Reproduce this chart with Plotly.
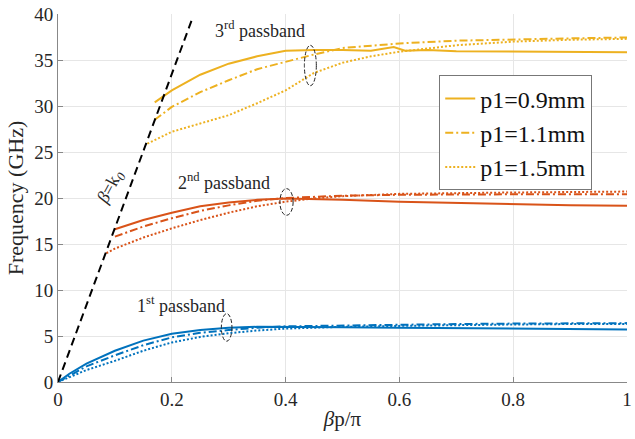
import plotly.graph_objects as go

# ---------------- data ----------------
k0_x = [0.0, 0.236]
k0_y = [0.0, 39.5]

b1_x = [0, 0.02, 0.05, 0.1, 0.15, 0.2, 0.25, 0.3, 0.35, 0.4, 0.5, 0.6, 0.7, 0.8, 0.9, 1.0]
b1_09 = [0, 0.9, 2.0, 3.4, 4.5, 5.25, 5.65, 5.9, 6.0, 6.0, 5.95, 5.9, 5.85, 5.8, 5.75, 5.7]
b1_11 = [0, 0.7, 1.7, 2.9, 4.0, 4.85, 5.35, 5.65, 5.9, 6.05, 6.15, 6.25, 6.3, 6.35, 6.35, 6.4]
b1_15 = [0, 0.5, 1.3, 2.3, 3.4, 4.3, 4.9, 5.3, 5.6, 5.8, 6.0, 6.1, 6.2, 6.25, 6.3, 6.3]

b2_x = [0.1, 0.15, 0.2, 0.25, 0.3, 0.35, 0.4, 0.45, 0.5, 0.6, 0.7, 0.8, 0.9, 1.0]
b2_09 = [16.6, 17.6, 18.4, 19.1, 19.5, 19.8, 19.95, 19.9, 19.8, 19.6, 19.45, 19.3, 19.2, 19.15]
b2_11 = [15.8, 16.9, 17.8, 18.6, 19.2, 19.7, 20.0, 20.15, 20.25, 20.35, 20.4, 20.4, 20.4, 20.4]
b2_15_x = [0.085, 0.1, 0.15, 0.2, 0.25, 0.3, 0.35, 0.4, 0.45, 0.5, 0.6, 0.7, 0.8, 0.9, 1.0]
b2_15 = [14.0, 14.5, 15.7, 16.7, 17.6, 18.4, 19.1, 19.6, 19.95, 20.2, 20.45, 20.55, 20.6, 20.65, 20.7]

b3_09_x = [0.17, 0.2, 0.25, 0.3, 0.35, 0.4, 0.45, 0.5, 0.55, 0.59, 0.61, 0.65, 0.7, 0.8, 0.9, 1.0]
b3_09 = [30.4, 31.7, 33.4, 34.6, 35.4, 36.0, 36.1, 36.1, 36.0, 36.4, 36.0, 36.1, 35.95, 35.9, 35.9, 35.85]
b3_11_x = [0.17, 0.2, 0.25, 0.3, 0.35, 0.4, 0.45, 0.5, 0.6, 0.7, 0.8, 0.9, 1.0]
b3_11 = [28.5, 29.9, 31.5, 32.8, 34.0, 34.8, 35.6, 36.3, 36.8, 37.1, 37.25, 37.35, 37.45]
b3_15_x = [0.157, 0.2, 0.25, 0.3, 0.35, 0.4, 0.45, 0.5, 0.55, 0.6, 0.7, 0.8, 0.9, 1.0]
b3_15 = [25.9, 27.2, 28.1, 29.0, 30.3, 31.7, 33.6, 34.7, 35.4, 35.9, 36.6, 37.0, 37.2, 37.3]

legend_names = ["p1=0.9mm", "p1=1.1mm", "p1=1.5mm"]
x_ticks = [0, 0.2, 0.4, 0.6, 0.8, 1]
x_tick_text = ["0", "0.2", "0.4", "0.6", "0.8", "1"]
y_ticks = [0, 5, 10, 15, 20, 25, 30, 35, 40]

# ---------------- style ----------------
BLUE = "#0072BD"
ORANGE = "#D95319"
YELLOW = "#EDB120"
FONT = "Liberation Serif"
TXT = "#262626"
dashes = ["solid", "8px,3px,2px,3px", "2px,2px"]
LW = 2

fig = go.Figure()

bands = [
    (BLUE, [(b1_x, b1_09), (b1_x, b1_11), (b1_x, b1_15)], False),
    (ORANGE, [(b2_x, b2_09), (b2_x, b2_11), (b2_15_x, b2_15)], False),
    (YELLOW, [(b3_09_x, b3_09), (b3_11_x, b3_11), (b3_15_x, b3_15)], True),
]
for color, series, show in bands:
    for i, (xs, ys) in enumerate(series):
        fig.add_trace(go.Scatter(x=xs, y=ys, mode="lines", name=legend_names[i],
                                 line=dict(color=color, width=LW, dash=dashes[i]),
                                 showlegend=show))

fig.add_trace(go.Scatter(x=k0_x, y=k0_y, mode="lines",
                         line=dict(color="black", width=2, dash="8px,5px"),
                         showlegend=False))

# dashed ellipses
ellipses = [(0.4435, 0.0105, 34.4, 2.2), (0.4016, 0.0116, 19.57, 1.45), (0.2964, 0.0093, 5.93, 1.5)]
for cx, rx, cy, ry in ellipses:
    fig.add_shape(type="circle", xref="x", yref="y", x0=cx - rx, x1=cx + rx, y0=cy - ry, y1=cy + ry,
                  line=dict(color="#222", width=1, dash="4px,2px"))

ann_font = dict(family=FONT, size=18, color=TXT)
fig.add_annotation(x=0.355, y=38.3, xref="x", yref="y", text="3<sup>rd</sup> passband",
                   showarrow=False, font=ann_font)
fig.add_annotation(x=0.292, y=21.8, xref="x", yref="y", text="2<sup>nd</sup> passband",
                   showarrow=False, font=ann_font)
fig.add_annotation(x=0.216, y=8.4, xref="x", yref="y", text="1<sup>st</sup> passband",
                   showarrow=False, font=ann_font)
fig.add_annotation(x=0.094, y=21.2, xref="x", yref="y", text="<i>β</i>=k<sub><i>0</i></sub>",
                   showarrow=False, textangle=-62, font=ann_font)

axis_common = dict(showgrid=True, gridcolor="#e6e6e6", gridwidth=1, zeroline=False,
                   showline=True, linecolor="#888", linewidth=1, ticks="inside",
                   ticklen=5, tickcolor="#888", ticklabeloverflow="allow",
                   tickfont=dict(family=FONT, size=19, color=TXT))

fig.update_xaxes(range=[0, 1], tickvals=x_ticks, ticktext=x_tick_text,
                 title=dict(text="<i>β</i>p/π", font=dict(family=FONT, size=21, color=TXT), standoff=2),
                 **axis_common)
fig.update_yaxes(range=[0, 40], tickvals=y_ticks,
                 title=dict(text="Frequency (GHz)", font=dict(family=FONT, size=22, color=TXT), standoff=4),
                 **axis_common)

fig.update_layout(
    width=635, height=439,
    margin=dict(l=58, r=3, t=14, b=57),
    paper_bgcolor="white", plot_bgcolor="white",
    font=dict(family=FONT),
    legend=dict(x=0.67, y=0.833, xanchor="left", yanchor="top",
                bgcolor="white", bordercolor="#777", borderwidth=1,
                font=dict(family=FONT, size=24, color="#111"),
                tracegroupgap=0, itemwidth=30),
)

fig.write_html("out.html")
